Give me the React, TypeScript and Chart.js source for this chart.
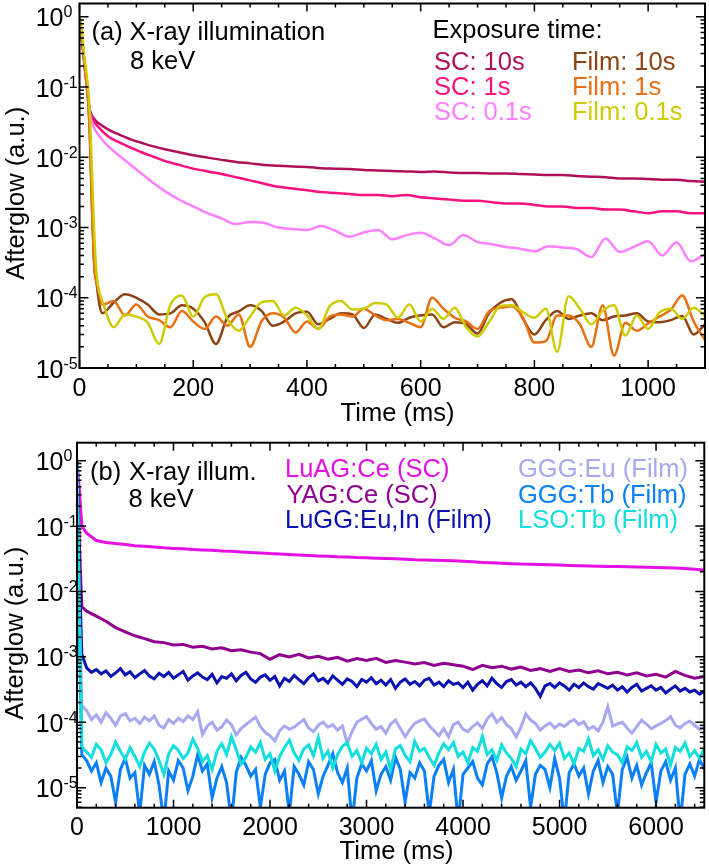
import { useEffect, useRef } from 'react';
import Chart from 'chart.js/auto';

const FONT = '"Liberation Sans", Arial, sans-serif';

// ---------- panel (a): X-ray illumination, 8 keV ----------
const timeSC = [
  0, 3, 6, 10, 14, 18, 25, 35, 50, 70, 90, 110, 130, 150, 175, 200,
  225, 250, 275, 300, 325, 350, 375, 400, 425, 450,
  475, 500, 525, 550, 575, 600, 625, 650, 675, 700,
  725, 750, 775, 800, 825, 850, 875, 900, 925, 950,
  975, 1000, 1025, 1050, 1075, 1100,
];
const sc10s = [
  1, 0.6, 0.36, 0.17, 0.085, 0.048, 0.036, 0.03, 0.025, 0.021, 0.018, 0.016, 0.0143, 0.013, 0.0118, 0.0107,
  0.0099, 0.0092, 0.0086, 0.0082, 0.0078, 0.0076, 0.0074, 0.0073, 0.007, 0.0069,
  0.0068, 0.0066, 0.0065, 0.0064, 0.0063, 0.0062, 0.0063, 0.0061, 0.006, 0.006,
  0.0059, 0.0059, 0.0058, 0.0057, 0.0056, 0.0056, 0.0054, 0.0053, 0.0052, 0.005,
  0.005, 0.0049, 0.0048, 0.0048, 0.0046, 0.0045,
];
const sc1s = [
  1, 0.6, 0.36, 0.17, 0.085, 0.046, 0.033, 0.026, 0.02, 0.0163, 0.0137, 0.0117, 0.0102, 0.0089, 0.0078, 0.0069,
  0.0063, 0.0058, 0.0052, 0.0047, 0.0042, 0.0038, 0.0036, 0.0034, 0.0032, 0.0031,
  0.003, 0.0029, 0.0029, 0.0028, 0.0029, 0.0027, 0.0026, 0.0025, 0.0024, 0.0024,
  0.0023, 0.0022, 0.0022, 0.0021, 0.002, 0.002, 0.0019, 0.0019, 0.0018, 0.0018,
  0.0017, 0.0016, 0.0017, 0.0017, 0.0016, 0.0016,
];
const sc01s = [
  1, 0.6, 0.36, 0.17, 0.08, 0.042, 0.027, 0.02, 0.0145, 0.0105, 0.0078, 0.0058, 0.0043, 0.0033, 0.0025, 0.002,
  0.0016, 0.00135, 0.00112, 0.0012, 0.00116, 0.001, 0.00095, 0.00092, 0.00105, 0.0009,
  0.00074, 0.00085, 0.00092, 0.00068, 0.00078, 0.00084, 0.0007, 0.00056, 0.00078, 0.00062,
  0.00058, 0.00053, 0.0005, 0.00046, 0.00054, 0.00052, 0.00049, 0.00038, 0.0007, 0.00045,
  0.00053, 0.00064, 0.0004, 0.00062, 0.00033, 0.00042,
];

const timeFilm = [
  0, 3, 6, 10, 14, 18, 22, 26, 30, 35,
  40, 60, 80, 100, 120, 140, 160, 180, 200, 220,
  240, 260, 280, 300, 320, 340, 360, 380, 400, 420,
  440, 460, 480, 500, 520, 540, 560, 580, 600, 620,
  640, 660, 680, 700, 720, 740, 760, 780, 800, 820,
  840, 860, 880, 900, 920, 940, 960, 980, 1000, 1020,
  1040, 1060, 1080, 1100,
];
const film10s = [
  1, 0.6, 0.36, 0.17, 0.09, 0.022, 0.0019, 0.00028, 0.00016, 0.00008,
  6.0e-5, 8.5e-5, 1.12e-4, 1.0e-4, 8.0e-5, 5.8e-5, 6.0e-5, 7.8e-5, 7.0e-5, 4.5e-5,
  2.2e-5, 5.2e-5, 6.4e-5, 7.8e-5, 6.5e-5, 4.0e-5, 4.6e-5, 6.0e-5, 6.3e-5, 4.2e-5,
  5.0e-5, 6.0e-5, 5.8e-5, 3.7e-5, 5.8e-5, 5.0e-5, 4.4e-5, 5.2e-5, 5.6e-5, 5.8e-5,
  3.8e-5, 4.5e-5, 4.2e-5, 3.1e-5, 6.0e-5, 8.5e-5, 9.5e-5, 5.0e-5, 3.0e-5, 4.8e-5,
  6.5e-5, 5.0e-5, 5.6e-5, 6.0e-5, 4.8e-5, 5.4e-5, 5.6e-5, 6.0e-5, 4.6e-5, 4.5e-5,
  4.8e-5, 5.5e-5, 3.0e-5, 4.2e-5,
];
const film1s = [
  1, 0.6, 0.36, 0.17, 0.09, 0.024, 0.002, 0.0003, 0.00017, 0.00011,
  8.0e-5, 9.0e-5, 5.6e-5, 8.0e-5, 5.4e-5, 4.8e-5, 3.8e-5, 6.5e-5, 4.6e-5, 3.6e-5,
  5.4e-5, 4.0e-5, 5.8e-5, 2.0e-5, 4.6e-5, 6.0e-5, 5.2e-5, 3.2e-5, 4.6e-5, 3.6e-5,
  5.4e-5, 5.8e-5, 5.4e-5, 7.0e-5, 5.6e-5, 4.8e-5, 5.0e-5, 4.4e-5, 3.8e-5, 1.0e-4,
  7.0e-5, 5.2e-5, 4.6e-5, 3.6e-5, 6.4e-5, 7.2e-5, 7.6e-5, 5.2e-5, 2.3e-5, 2.4e-5,
  5.6e-5, 5.6e-5, 4.2e-5, 2.0e-5, 7.8e-5, 1.5e-5, 4.4e-5, 3.4e-5, 4.3e-5, 5.4e-5,
  6.8e-5, 1.08e-4, 4.6e-5, 2.5e-5,
];
const film01s = [
  1, 0.75, 0.45, 0.22, 0.12, 0.045, 0.006, 0.0008, 0.00022, 0.00012,
  9.0e-5, 3.8e-5, 5.8e-5, 5.4e-5, 4.4e-5, 2.2e-5, 8.0e-5, 1.08e-4, 5.4e-5, 1.02e-4,
  1.12e-4, 5.0e-5, 3.4e-5, 5.4e-5, 8.6e-5, 9.0e-5, 5.6e-5, 7.2e-5, 5.6e-5, 3.6e-5,
  7.6e-5, 9.0e-5, 6.8e-5, 7.0e-5, 8.4e-5, 8.0e-5, 5.2e-5, 8.0e-5, 4.6e-5, 7.0e-5,
  5.0e-5, 7.2e-5, 3.8e-5, 2.8e-5, 4.5e-5, 7.6e-5, 7.8e-5, 6.2e-5, 5.2e-5, 7.0e-5,
  1.7e-5, 1.05e-4, 7.0e-5, 4.2e-5, 6.5e-5, 7.8e-5, 2.9e-5, 5.6e-5, 3.6e-5, 6.2e-5,
  7.0e-5, 5.0e-5, 7.2e-5, 5.5e-5,
];

// ---------- panel (b): X-ray illum., 8 keV, different materials ----------
const timeB = [
  0, 25, 50,
  100, 200, 300, 400, 500, 600, 700, 800, 900, 1000,
  1100, 1200, 1300, 1400, 1500, 1600, 1700, 1800, 1900, 2000,
  2100, 2200, 2300, 2400, 2500, 2600, 2700, 2800, 2900, 3000,
  3100, 3200, 3300, 3400, 3500, 3600, 3700, 3800, 3900, 4000,
  4100, 4200, 4300, 4400, 4500, 4600, 4700, 4800, 4900, 5000,
  5100, 5200, 5300, 5400, 5500, 5600, 5700, 5800, 5900, 6000,
  6100, 6200, 6300, 6400, 6500,
];
const luagCe = [
  1, 0.35, 0.1,
  0.078, 0.06, 0.056, 0.054, 0.052, 0.05, 0.049, 0.048, 0.0465, 0.0455,
  0.0448, 0.0438, 0.043, 0.0425, 0.0415, 0.041, 0.0402, 0.0395, 0.0388, 0.038,
  0.0375, 0.0368, 0.0362, 0.0355, 0.0349, 0.0344, 0.0338, 0.0335, 0.033, 0.0328,
  0.0323, 0.032, 0.0316, 0.031, 0.0305, 0.0303, 0.03, 0.0298, 0.0295, 0.029,
  0.0284, 0.0278, 0.0274, 0.027, 0.0266, 0.0262, 0.0261, 0.0259, 0.0257, 0.0254,
  0.025, 0.0247, 0.0245, 0.0243, 0.0241, 0.024, 0.0238, 0.0237, 0.0235, 0.0232,
  0.023, 0.0228, 0.0224, 0.0218, 0.0212,
];
const yagCe = [
  1, 0.05, 0.0058,
  0.005, 0.0042, 0.0035, 0.0028, 0.0024, 0.0021, 0.0019, 0.0017, 0.00165, 0.00152,
  0.00155, 0.0014, 0.00145, 0.00132, 0.00138, 0.00124, 0.00128, 0.00118, 0.00112, 0.00092,
  0.00108, 0.001, 0.00109, 0.00096, 0.00102, 0.00092, 0.00098, 0.00086, 0.00094, 0.00088,
  0.00095, 0.00082, 0.00088, 0.00083, 0.00078, 0.00082, 0.00074, 0.0008, 0.00076, 0.00072,
  0.00064, 0.00074, 0.00068, 0.00072, 0.00065, 0.0007, 0.00062, 0.00066, 0.0006, 0.00066,
  0.0006, 0.00063, 0.00057, 0.00061, 0.00055, 0.00058, 0.00053, 0.00057, 0.00051, 0.00054,
  0.00049, 0.0006, 0.00052, 0.00047, 0.0005,
];

const timeBFine = [
  0, 25,
  50, 100, 150, 200, 250, 300, 350, 400, 450, 500,
  550, 600, 650, 700, 750, 800, 850, 900, 950, 1000,
  1050, 1100, 1150, 1200, 1250, 1300, 1350, 1400, 1450, 1500,
  1550, 1600, 1650, 1700, 1750, 1800, 1850, 1900, 1950, 2000,
  2050, 2100, 2150, 2200, 2250, 2300, 2350, 2400, 2450, 2500,
  2550, 2600, 2650, 2700, 2750, 2800, 2850, 2900, 2950, 3000,
  3050, 3100, 3150, 3200, 3250, 3300, 3350, 3400, 3450, 3500,
  3550, 3600, 3650, 3700, 3750, 3800, 3850, 3900, 3950, 4000,
  4050, 4100, 4150, 4200, 4250, 4300, 4350, 4400, 4450, 4500,
  4550, 4600, 4650, 4700, 4750, 4800, 4850, 4900, 4950, 5000,
  5050, 5100, 5150, 5200, 5250, 5300, 5350, 5400, 5450, 5500,
  5550, 5600, 5650, 5700, 5750, 5800, 5850, 5900, 5950, 6000,
  6050, 6100, 6150, 6200, 6250, 6300, 6350, 6400, 6450, 6500,
];
const luggEuIn = [
  1, 0.02,
  0.0011, 0.00068, 0.00058, 0.00064, 0.00055, 0.00061, 0.0005, 0.00057, 0.00066, 0.00053,
  0.00059, 0.00048, 0.00055, 0.00062, 0.00051, 0.00046, 0.00056, 0.0005, 0.00058, 0.00047,
  0.00053, 0.0006, 0.00044, 0.00051, 0.00057, 0.00049, 0.00045, 0.00054, 0.0004, 0.0005,
  0.00047, 0.00055, 0.00043, 0.00052, 0.00058, 0.00046, 0.00041, 0.00049, 0.00053, 0.00044,
  0.0005, 0.00036, 0.00047, 0.00042, 0.00052, 0.00045, 0.00039, 0.00048, 0.00055, 0.00043,
  0.00047, 0.0004, 0.00051, 0.00044, 0.00038, 0.00046, 0.00042, 0.00035, 0.00045, 0.00041,
  0.00048, 0.00039, 0.00044, 0.00037, 0.00045, 0.00033, 0.00041, 0.00046, 0.00038, 0.00042,
  0.00036, 0.00044, 0.00047, 0.00037, 0.00041, 0.00035, 0.00043, 0.00038, 0.0004, 0.00034,
  0.00041, 0.00031, 0.00038, 0.00043, 0.00036, 0.00047, 0.00039, 0.00034, 0.00042, 0.00045,
  0.00037, 0.00041, 0.00035, 0.0004, 0.00033, 0.00025, 0.00036, 0.00039, 0.00034, 0.0004,
  0.00036, 0.00031, 0.00038, 0.00034, 0.0004, 0.00035, 0.00032, 0.00039, 0.00036, 0.00033,
  0.00037, 0.00031, 0.00035, 0.00029, 0.00034, 0.00038, 0.0003, 0.00033, 0.00036, 0.00031,
  0.00034, 0.00028, 0.00032, 0.00036, 0.0003, 0.00033, 0.00029, 0.00031, 0.00027, 0.0003,
];
const gggEu = [
  1, 0.005,
  1.8e-4, 1.5e-4, 1.1e-4, 1.3e-4, 1.0e-4, 1.4e-4, 1.15e-4, 9.0e-5, 1.25e-4, 1.35e-4,
  1.05e-4, 1.15e-4, 9.5e-5, 1.2e-4, 1.05e-4, 1.25e-4, 9.0e-5, 8.2e-5, 1.1e-4, 9.6e-5,
  1.15e-4, 1.02e-4, 1.25e-4, 1.1e-4, 1.45e-4, 6.5e-5, 8.8e-5, 1.0e-4, 7.6e-5, 8.5e-5,
  1.08e-4, 9.2e-5, 6.4e-5, 8.0e-5, 9.2e-5, 1.05e-4, 1.2e-4, 8.6e-5, 7.0e-5, 6.2e-5,
  5.2e-5, 7.4e-5, 8.8e-5, 7.8e-5, 8.4e-5, 9.6e-5, 1.1e-4, 8.2e-5, 7.2e-5, 9.0e-5,
  1.0e-4, 8.4e-5, 9.2e-5, 7.6e-5, 8.8e-5, 4.8e-5, 7.2e-5, 1.0e-4, 1.12e-4, 1.22e-4,
  9.6e-5, 7.8e-5, 8.6e-5, 6.8e-5, 9.4e-5, 1.08e-4, 8.0e-5, 6.0e-5, 7.8e-5, 9.6e-5,
  1.05e-4, 1.12e-4, 8.8e-5, 7.4e-5, 6.2e-5, 8.0e-5, 6.0e-5, 9.2e-5, 1.0e-4, 7.8e-5,
  7.2e-5, 8.6e-5, 9.8e-5, 8.0e-5, 1.12e-4, 1.35e-4, 1.0e-4, 1.18e-4, 9.2e-5, 8.0e-5,
  6.0e-5, 8.4e-5, 1.35e-4, 1.08e-4, 9.6e-5, 7.6e-5, 8.8e-5, 9.8e-5, 8.2e-5, 9.4e-5,
  8.6e-5, 1.0e-4, 1.1e-4, 9.2e-5, 1.02e-4, 7.8e-5, 8.6e-5, 7.4e-5, 1.0e-4, 1.72e-4,
  8.8e-5, 9.4e-5, 1.0e-4, 8.2e-5, 6.8e-5, 8.6e-5, 1.08e-4, 9.4e-5, 8.0e-5, 8.8e-5,
  9.6e-5, 1.06e-4, 1.22e-4, 9.0e-5, 8.2e-5, 9.6e-5, 1.04e-4, 9.0e-5, 7.8e-5, 8.6e-5,
];
const gggTb = [
  1, 0.002,
  3.2e-5, 2.6e-5, 1.8e-5, 2.4e-5, 1.2e-5, 2.0e-5, 1.5e-5, 6e-6, 1.9e-5, 2.8e-5,
  1.4e-5, 1.7e-5, 4e-6, 2.2e-5, 1.6e-5, 2.5e-5, 1.1e-5, 3e-6, 1.8e-5, 1.3e-5,
  2.6e-5, 2.0e-5, 9e-6, 1.5e-5, 3.2e-5, 1.8e-5, 2.3e-5, 7e-6, 1.4e-5, 2.1e-5,
  1.2e-5, 3e-6, 1.7e-5, 2.9e-5, 2.2e-5, 1.5e-5, 1.9e-5, 5e-6, 1.6e-5, 2.4e-5,
  2.7e-5, 1.3e-5, 1.8e-5, 4e-6, 2.1e-5, 1.6e-5, 1.1e-5, 2.5e-5, 1.9e-5, 8e-6,
  1.5e-5, 2.2e-5, 3.3e-5, 1.7e-5, 1.2e-5, 2.0e-5, 3e-6, 1.4e-5, 2.3e-5, 1.8e-5,
  2.6e-5, 9e-6, 1.6e-5, 2.1e-5, 1.3e-5, 2.9e-5, 1.9e-5, 6e-6, 1.7e-5, 1.4e-5,
  2.4e-5, 1.8e-5, 4e-6, 1.5e-5, 2.2e-5, 2.7e-5, 1.2e-5, 1.9e-5, 3e-6, 1.6e-5,
  2.0e-5, 2.5e-5, 1.4e-5, 1.1e-5, 2.3e-5, 3.0e-5, 1.7e-5, 7e-6, 1.5e-5, 2.1e-5,
  1.3e-5, 1.8e-5, 2.6e-5, 5e-6, 1.6e-5, 2.2e-5, 1.9e-5, 1.0e-5, 2.8e-5, 1.4e-5,
  3e-6, 1.7e-5, 2.3e-5, 1.5e-5, 2.0e-5, 8e-6, 1.8e-5, 2.6e-5, 1.2e-5, 2.1e-5,
  1.6e-5, 4e-6, 1.9e-5, 2.9e-5, 1.4e-5, 2.2e-5, 1.1e-5, 1.7e-5, 2.4e-5, 6e-6,
  1.8e-5, 2.5e-5, 1.3e-5, 2.0e-5, 3e-6, 1.6e-5, 2.3e-5, 1.5e-5, 2.7e-5, 1.9e-5,
];
const lsoTb = [
  1, 0.004,
  4.2e-5, 3.5e-5, 2.9e-5, 4.6e-5, 3.8e-5, 2.4e-5, 3.2e-5, 5.0e-5, 3.6e-5, 2.7e-5,
  4.1e-5, 3.0e-5, 2.1e-5, 3.5e-5, 4.8e-5, 3.9e-5, 2.6e-5, 1.6e-5, 3.3e-5, 4.4e-5,
  3.7e-5, 2.8e-5, 3.4e-5, 5.5e-5, 4.0e-5, 2.5e-5, 3.1e-5, 1.9e-5, 3.6e-5, 4.7e-5,
  3.2e-5, 6.0e-5, 3.8e-5, 2.3e-5, 2.9e-5, 4.2e-5, 3.5e-5, 4.9e-5, 2.7e-5, 3.3e-5,
  1.8e-5, 3.0e-5, 4.1e-5, 5.3e-5, 3.4e-5, 2.6e-5, 3.9e-5, 4.5e-5, 3.1e-5, 5.8e-5,
  2.8e-5, 3.6e-5, 2.0e-5, 3.2e-5, 4.3e-5, 4.9e-5, 3.0e-5, 3.7e-5, 2.4e-5, 4.0e-5,
  3.3e-5, 4.6e-5, 2.7e-5, 3.5e-5, 1.9e-5, 3.9e-5, 4.4e-5, 3.1e-5, 2.5e-5, 5.1e-5,
  3.6e-5, 4.0e-5, 2.9e-5, 2.2e-5, 3.4e-5, 4.7e-5, 3.8e-5, 4.9e-5, 3.0e-5, 3.5e-5,
  2.4e-5, 4.1e-5, 3.6e-5, 6.1e-5, 3.2e-5, 3.8e-5, 2.6e-5, 4.5e-5, 3.4e-5, 2.8e-5,
  2.1e-5, 3.9e-5, 3.3e-5, 5.2e-5, 4.0e-5, 2.9e-5, 3.5e-5, 4.6e-5, 3.7e-5, 4.8e-5,
  2.8e-5, 3.4e-5, 2.3e-5, 4.0e-5, 3.6e-5, 5.6e-5, 3.1e-5, 3.8e-5, 2.7e-5, 4.4e-5,
  3.5e-5, 3.2e-5, 2.4e-5, 4.2e-5, 3.7e-5, 4.9e-5, 2.9e-5, 3.6e-5, 2.5e-5, 4.6e-5,
  3.4e-5, 3.9e-5, 2.2e-5, 4.1e-5, 3.6e-5, 4.8e-5, 3.0e-5, 3.7e-5, 2.8e-5, 4.0e-5,
];

// axis ticks
const xTicksA = [0, 200, 400, 600, 800, 1000];
const xTicksB = [0, 1000, 2000, 3000, 4000, 5000, 6000];
const yExponents = [0, -1, -2, -3, -4, -5];

const X_TITLE = 'Time (ms)';
const Y_TITLE = 'Afterglow (a.u.)';

const C = {
  sc10: '#B0105A',
  sc1: '#FF1080',
  sc01: '#FF80FF',
  film10: '#8C4414',
  film1: '#E87012',
  film01: '#CCCC00',
  luag: '#E410E4',
  yag: '#900090',
  lugg: '#0A12B0',
  gggEu: '#A8A8F0',
  gggTb: '#0A80F8',
  lso: '#12DEDE',
};

interface Note { text: string; x: number; y: number; color: string }
interface FrameSpec {
  xMajor: number[];
  xMinorStep: number;
  xMax: number;
  yMin: number;
  yMax: number;
  xLabelBase: number;
  xTitle: [number, number];
  yTitle: [number, number];
  notes: Note[];
}

const notesA: Note[] = [
  { text: '(a)', x: 91.5, y: 40, color: '#000' },
  { text: 'X-ray illumination', x: 129.5, y: 40, color: '#000' },
  { text: '8 keV', x: 130, y: 69, color: '#000' },
  { text: 'Exposure time:', x: 432.5, y: 38.3, color: '#000' },
  { text: 'SC: 10s', x: 434, y: 70, color: C.sc10 },
  { text: 'SC: 1s', x: 434, y: 95, color: C.sc1 },
  { text: 'SC: 0.1s', x: 434, y: 120, color: C.sc01 },
  { text: 'Film: 10s', x: 572, y: 70, color: C.film10 },
  { text: 'Film: 1s', x: 572, y: 95, color: C.film1 },
  { text: 'Film: 0.1s', x: 572, y: 120, color: C.film01 },
];
const notesB: Note[] = [
  { text: '(b)', x: 90, y: 50, color: '#000' },
  { text: 'X-ray illum.', x: 129, y: 50, color: '#000' },
  { text: '8 keV', x: 128.5, y: 77.3, color: '#000' },
  { text: 'LuAG:Ce (SC)', x: 285, y: 46.7, color: C.luag },
  { text: 'YAG:Ce (SC)', x: 286.5, y: 72.7, color: C.yag },
  { text: 'LuGG:Eu,In (Film)', x: 285, y: 97.7, color: C.lugg },
  { text: 'GGG:Eu (Film)', x: 518, y: 46.7, color: C.gggEu },
  { text: 'GGG:Tb (Film)', x: 518, y: 72.7, color: C.gggTb },
  { text: 'LSO:Tb (Film)', x: 518, y: 97.7, color: C.lso },
];

const pts = (t: number[], v: number[]) => t.map((x, i) => ({ x, y: v[i] }));

// draws the box, inward ticks, tick labels, axis titles and the in-plot text
function framePlugin(spec: FrameSpec) {
  return {
    id: 'frame',
    afterDraw(chart: any) {
      const { ctx, chartArea: a } = chart;
      const xs = chart.scales.x;
      const ys = chart.scales.y;
      ctx.save();
      ctx.strokeStyle = '#000';
      ctx.fillStyle = '#000';
      ctx.lineWidth = 1.5;
      ctx.beginPath();
      for (let i = 0; i * spec.xMinorStep <= spec.xMax; i++) {
        const v = i * spec.xMinorStep;
        const px = xs.getPixelForValue(v);
        const len = spec.xMajor.includes(v) ? 8 : 4;
        ctx.moveTo(px, a.bottom);
        ctx.lineTo(px, a.bottom - len);
        ctx.moveTo(px, a.top);
        ctx.lineTo(px, a.top + len);
      }
      for (let e = Math.floor(Math.log10(spec.yMin)); e <= 0; e++) {
        for (let m = 1; m <= 9; m++) {
          const v = m * Math.pow(10, e);
          if (v < spec.yMin || v > spec.yMax) continue;
          const py = ys.getPixelForValue(v);
          const len = m === 1 ? 9 : 4.5;
          ctx.moveTo(a.left, py);
          ctx.lineTo(a.left + len, py);
          ctx.moveTo(a.right, py);
          ctx.lineTo(a.right - len, py);
        }
      }
      ctx.stroke();
      ctx.lineWidth = 2;
      ctx.strokeRect(a.left, a.top, a.right - a.left, a.bottom - a.top);

      // y labels 10^n
      ctx.textBaseline = 'alphabetic';
      for (const e of yExponents) {
        const py = ys.getPixelForValue(Math.pow(10, e));
        ctx.font = `25px ${FONT}`;
        ctx.textAlign = 'right';
        ctx.fillText('10', 63.5, py + 9.5);
        ctx.font = `16px ${FONT}`;
        ctx.textAlign = 'left';
        ctx.fillText(String(e), 63.5, py + 0.5);
      }

      // x labels
      ctx.font = `25px ${FONT}`;
      ctx.textAlign = 'center';
      for (const v of spec.xMajor) {
        ctx.fillText(String(v), xs.getPixelForValue(v), spec.xLabelBase);
      }

      // axis titles
      ctx.font = `25.5px ${FONT}`;
      ctx.fillText(X_TITLE, spec.xTitle[0], spec.xTitle[1]);
      ctx.save();
      ctx.translate(spec.yTitle[0], spec.yTitle[1]);
      ctx.rotate(-Math.PI / 2);
      ctx.fillText(Y_TITLE, 0, 0);
      ctx.restore();

      // annotations
      ctx.textAlign = 'left';
      for (const n of spec.notes) {
        ctx.fillStyle = n.color;
        ctx.fillText(n.text, n.x, n.y);
      }
      ctx.restore();
    },
  };
}

interface PanelProps {
  height: number;
  datasets: any[];
  xMax: number;
  yMin: number;
  yMax: number;
  padding: { left: number; top: number; right: number; bottom: number };
  frame: FrameSpec;
  smooth: boolean;
  width: number;
}

const Panel = ({ height, datasets, xMax, yMin, yMax, padding, frame, smooth, width }: PanelProps) => {
  const canvasRef = useRef<HTMLCanvasElement | null>(null);

  useEffect(() => {
    if (!canvasRef.current) return;
    const chart = new Chart(canvasRef.current, {
      type: 'line',
      data: { datasets },
      options: {
        animation: false,
        responsive: true,
        maintainAspectRatio: false,
        events: [],
        layout: { padding },
        elements: {
          point: { radius: 0 },
          line: {
            borderWidth: width,
            tension: 0,
            cubicInterpolationMode: smooth ? 'monotone' : 'default',
          },
        },
        plugins: { legend: { display: false }, tooltip: { enabled: false } },
        scales: {
          x: { type: 'linear', display: false, min: 0, max: xMax },
          y: { type: 'logarithmic', display: false, min: yMin, max: yMax },
        },
      },
      plugins: [framePlugin(frame)],
    });
    return () => chart.destroy();
  }, []);

  return (
    <div style={{ position: 'relative', width: 709, height }}>
      <canvas ref={canvasRef} />
    </div>
  );
};

const line = (label: string, data: any[], color: string) => ({
  label,
  data,
  borderColor: color,
  backgroundColor: color,
  fill: false,
});

export default function App() {
  const datasetsA = [
    line('Film: 0.1s', pts(timeFilm, film01s), C.film01),
    line('Film: 1s', pts(timeFilm, film1s), C.film1),
    line('Film: 10s', pts(timeFilm, film10s), C.film10),
    line('SC: 0.1s', pts(timeSC, sc01s), C.sc01),
    line('SC: 1s', pts(timeSC, sc1s), C.sc1),
    line('SC: 10s', pts(timeSC, sc10s), C.sc10),
  ];
  const datasetsB = [
    line('LSO:Tb (Film)', pts(timeBFine, lsoTb), C.lso),
    line('GGG:Tb (Film)', pts(timeBFine, gggTb), C.gggTb),
    line('GGG:Eu (Film)', pts(timeBFine, gggEu), C.gggEu),
    line('LuGG:Eu,In (Film)', pts(timeBFine, luggEuIn), C.lugg),
    line('YAG:Ce (SC)', pts(timeB, yagCe), C.yag),
    line('LuAG:Ce (SC)', pts(timeB, luagCe), C.luag),
  ];

  return (
    <div style={{ position: 'absolute', left: 0, top: 0, width: 709, height: 868, background: '#fff' }}>
      <Panel
        height={430}
        datasets={datasetsA}
        xMax={1100}
        yMin={1e-5}
        yMax={1.55}
        smooth={true}
        width={2.5}
        padding={{ left: 79.5, top: 3.5, right: 4, bottom: 62 }}
        frame={{
          xMajor: xTicksA,
          xMinorStep: 50,
          xMax: 1100,
          yMin: 1e-5,
          yMax: 1.55,
          xLabelBase: 396,
          xTitle: [397.5, 421],
          yTitle: [24, 193.3],
          notes: notesA,
        }}
      />
      <Panel
        height={438}
        datasets={datasetsB}
        xMax={6500}
        yMin={4.94e-6}
        yMax={1.88}
        smooth={false}
        width={3}
        padding={{ left: 77, top: 12.7, right: 4.7, bottom: 60.3 }}
        frame={{
          xMajor: xTicksB,
          xMinorStep: 200,
          xMax: 6500,
          yMin: 4.94e-6,
          yMax: 1.88,
          xLabelBase: 405,
          xTitle: [396.5, 429.3],
          yTitle: [23, 203.3],
          notes: notesB,
        }}
      />
    </div>
  );
}
